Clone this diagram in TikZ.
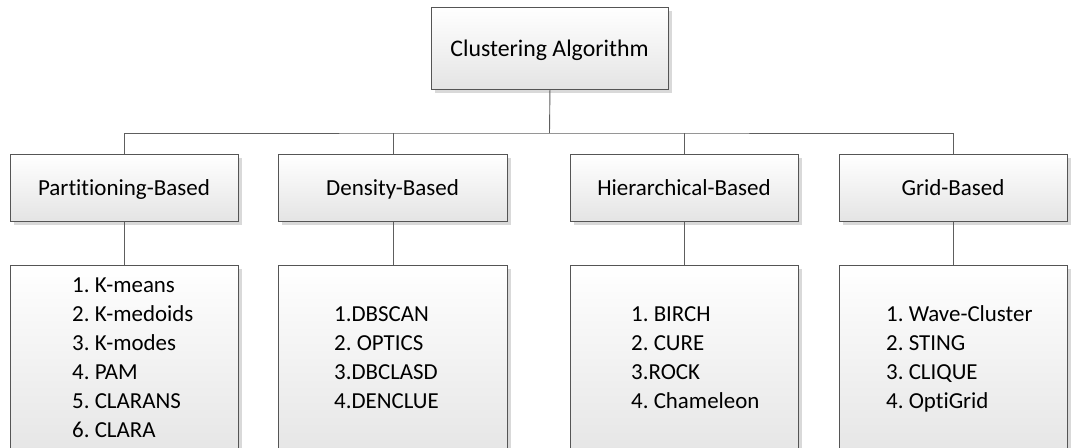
\documentclass[tikz,border=0pt]{standalone}
\usepackage{fontspec}
\setmainfont{Carlito}[Ligatures=NoCommon]
\frenchspacing
\usetikzlibrary{shadows}
\definecolor{edge}{HTML}{555555}
\definecolor{wire}{HTML}{5E5E5E}
\definecolor{boxlow}{HTML}{E4E4E4}
\definecolor{shade}{HTML}{D9D9D9}
\tikzset{
  card/.style={draw=edge, line width=0.9pt, top color=white, bottom color=boxlow,
    inner sep=0pt, anchor=north west,
    drop shadow={shadow xshift=4pt, shadow yshift=-4pt, fill=shade, opacity=1}},
  wirestyle/.style={draw=wire, line width=0.9pt},
  label/.style={font=\fontsize{23}{28}\selectfont, text=black, inner sep=0pt, anchor=base},
  % multi-line lists: the base anchor sits on the last line's baseline
  listing/.style={font=\fontsize{22.9}{29}\selectfont, text=black, inner sep=0pt,
    align=left, anchor=base west}
}
\begin{document}
\begin{tikzpicture}[x=1pt, y=-1pt]
\useasboundingbox (0,0) rectangle (1089,447);
\clip (0,0) rectangle (1089,447);

% root
\node[card, minimum width=237pt, minimum height=82pt] (root) at (431,7) {};
\node[label, font=\fontsize{23.8}{28}\selectfont] (roott) at (549.5,56.7) {Clustering Algorithm};

% second level
\node[card, minimum width=228pt, minimum height=67pt] (p2) at (10,154) {};
\node[card, minimum width=229pt, minimum height=67pt] (d2) at (278,154) {};
\node[card, minimum width=228pt, minimum height=67pt] (h2) at (570,154) {};
\node[card, minimum width=228pt, minimum height=67pt] (g2) at (839,154) {};
\node[label] (p2t) at (124,195) {Partitioning-Based};
\node[label] (d2t) at (392.5,195) {Density-Based};
\node[label] (h2t) at (684,195) {Hierarchical-Based};
\node[label] (g2t) at (953,195) {Grid-Based};

% third level
\node[card, minimum width=228pt, minimum height=200pt] (p3) at (10,265) {};
\node[card, minimum width=229pt, minimum height=200pt] (d3) at (278,265) {};
\node[card, minimum width=228pt, minimum height=200pt] (h3) at (570,265) {};
\node[card, minimum width=228pt, minimum height=200pt] (g3) at (839,265) {};
\node[listing] (p3t) at (72,437) {1. K-means\\2. K-medoids\\3. K-modes\\4. PAM\\5. CLARANS\\6. CLARA};
\node[listing] (d3t) at (334,408) {1.DBSCAN\\2. OPTICS\\3.DBCLASD\\4.DENCLUE};
\node[listing] (h3t) at (631,408) {1. BIRCH\\2. CURE\\3.ROCK\\4. Chameleon};
\node[listing] (g3t) at (886,408) {1. Wave-Cluster\\2. STING\\3. CLIQUE\\4. OptiGrid};

% connectors
\coordinate (bus) at (549.5,133);
\draw[wirestyle] (root.south) -- (bus);
\draw[wirestyle] (p2.north) |- (bus) -| (g2.north);
\draw[wirestyle] (d2.north) -- (d2.north |- bus);
\draw[wirestyle] (h2.north) -- (h2.north |- bus);
\draw[wirestyle] (p2.south) -- (p3.north);
\draw[wirestyle] (d2.south) -- (d3.north);
\draw[wirestyle] (h2.south) -- (h3.north);
\draw[wirestyle] (g2.south) -- (g3.north);
\end{tikzpicture}
\end{document}
